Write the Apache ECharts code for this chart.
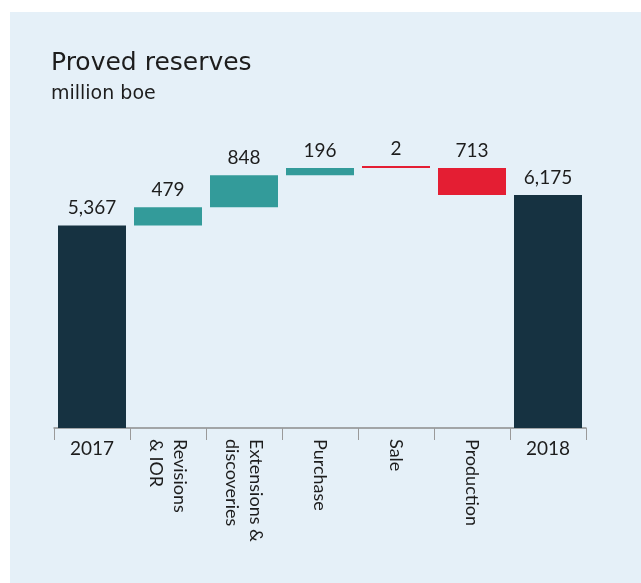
<!DOCTYPE html>
<html>
<head>
<meta charset="utf-8">
<script src="https://cdn.jsdelivr.net/npm/echarts@6/dist/echarts.min.js"></script>
<style>
  html, body { margin: 0; padding: 0; background: #ffffff; }
  #chart { width: 641px; height: 583px; }
</style>
</head>
<body>
<div id="chart"></div>
<script>
// Proved reserves bridge, million boe
const categories = ['2017', 'Revisions\n& IOR', 'Extensions &\ndiscoveries', 'Purchase', 'Sale', 'Production', '2018'];
const totals  = [5367, null, null, null, null, null, 6175];
const changes = [null, 479, 848, 196, -2, -713, null];

// Build the stacked pieces of the waterfall: invisible base + visible segment
const baseVals = [];
const upVals = [];
const downVals = [];
const totalVals = [];
let running = 0;
categories.forEach((c, i) => {
  if (totals[i] !== null) {
    running = totals[i];
    baseVals.push(0);
    upVals.push('-');
    downVals.push('-');
    totalVals.push(totals[i]);
  } else {
    const d = changes[i];
    if (d >= 0) {
      baseVals.push(running);
      upVals.push(d);
      downVals.push('-');
    } else {
      baseVals.push(running + d);
      upVals.push('-');
      downVals.push(-d);
    }
    totalVals.push('-');
    running += d;
  }
});

const fmt = v => Number(v).toLocaleString('en-US');
const FONT = 'Lato, "Noto Sans", sans-serif';
const TITLE_FONT = '"DejaVu Sans", sans-serif';
const TEXT = '#1d1d1d';

const valueLabel = {
  show: true,
  position: 'top',
  distance: 8,
  color: TEXT,
  fontFamily: FONT,
  fontSize: 19,
  formatter: p => fmt(p.value)
};

const chart = echarts.init(document.getElementById('chart'), null, { renderer: 'canvas' });
chart.setOption({
  backgroundColor: '#ffffff',
  animation: false,
  graphic: [{
    type: 'rect',
    silent: true,
    z: -10,
    shape: { x: 10, y: 12, width: 631, height: 571 },
    style: { fill: '#e5f0f8' }
  }],
  title: {
    text: 'Proved reserves',
    subtext: 'million boe',
    left: 46,
    top: 46,
    itemGap: 9,
    textStyle: { fontFamily: TITLE_FONT, fontSize: 25, fontWeight: 'normal', color: TEXT },
    subtextStyle: { fontFamily: TITLE_FONT, fontSize: 19, color: TEXT }
  },
  grid: { left: 54, right: 55, top: 126, bottom: 155, containLabel: false },
  xAxis: [{
    type: 'category',
    data: categories,
    axisLine: { lineStyle: { color: '#8c8c8c', width: 1.5 } },
    axisTick: { show: true, length: 12, alignWithLabel: false, lineStyle: { color: '#9a9a9a', width: 1 } },
    axisLabel: {
      interval: 0,
      margin: 11,
      color: TEXT,
      fontFamily: FONT,
      fontSize: 19,
      formatter: (v, i) => (totals[i] !== null ? v : '')
    }
  }, {
    type: 'category',
    data: categories,
    position: 'bottom',
    axisLine: { show: false },
    axisTick: { show: false },
    axisLabel: {
      interval: 0,
      rotate: -90,
      margin: 11,
      color: TEXT,
      fontFamily: FONT,
      fontSize: 18,
      lineHeight: 24,
      formatter: (v, i) => (totals[i] === null ? v : '')
    }
  }],
  yAxis: {
    type: 'value',
    min: 0,
    max: 8000,
    show: false
  },
  series: [{
    name: 'base',
    type: 'bar',
    stack: 'bridge',
    barWidth: 68,
    silent: true,
    itemStyle: { color: 'transparent' },
    data: baseVals
  }, {
    name: 'Increase',
    type: 'bar',
    stack: 'bridge',
    barWidth: 68,
    itemStyle: { color: '#339b9a' },
    label: valueLabel,
    data: upVals
  }, {
    name: 'Decrease',
    type: 'bar',
    stack: 'bridge',
    barWidth: 68,
    barMinHeight: 2,
    itemStyle: { color: '#e41e33' },
    label: valueLabel,
    data: downVals
  }, {
    name: 'Total',
    type: 'bar',
    stack: 'bridge',
    barWidth: 68,
    itemStyle: { color: '#163241' },
    label: valueLabel,
    data: totalVals
  }]
});
</script>
</body>
</html>
